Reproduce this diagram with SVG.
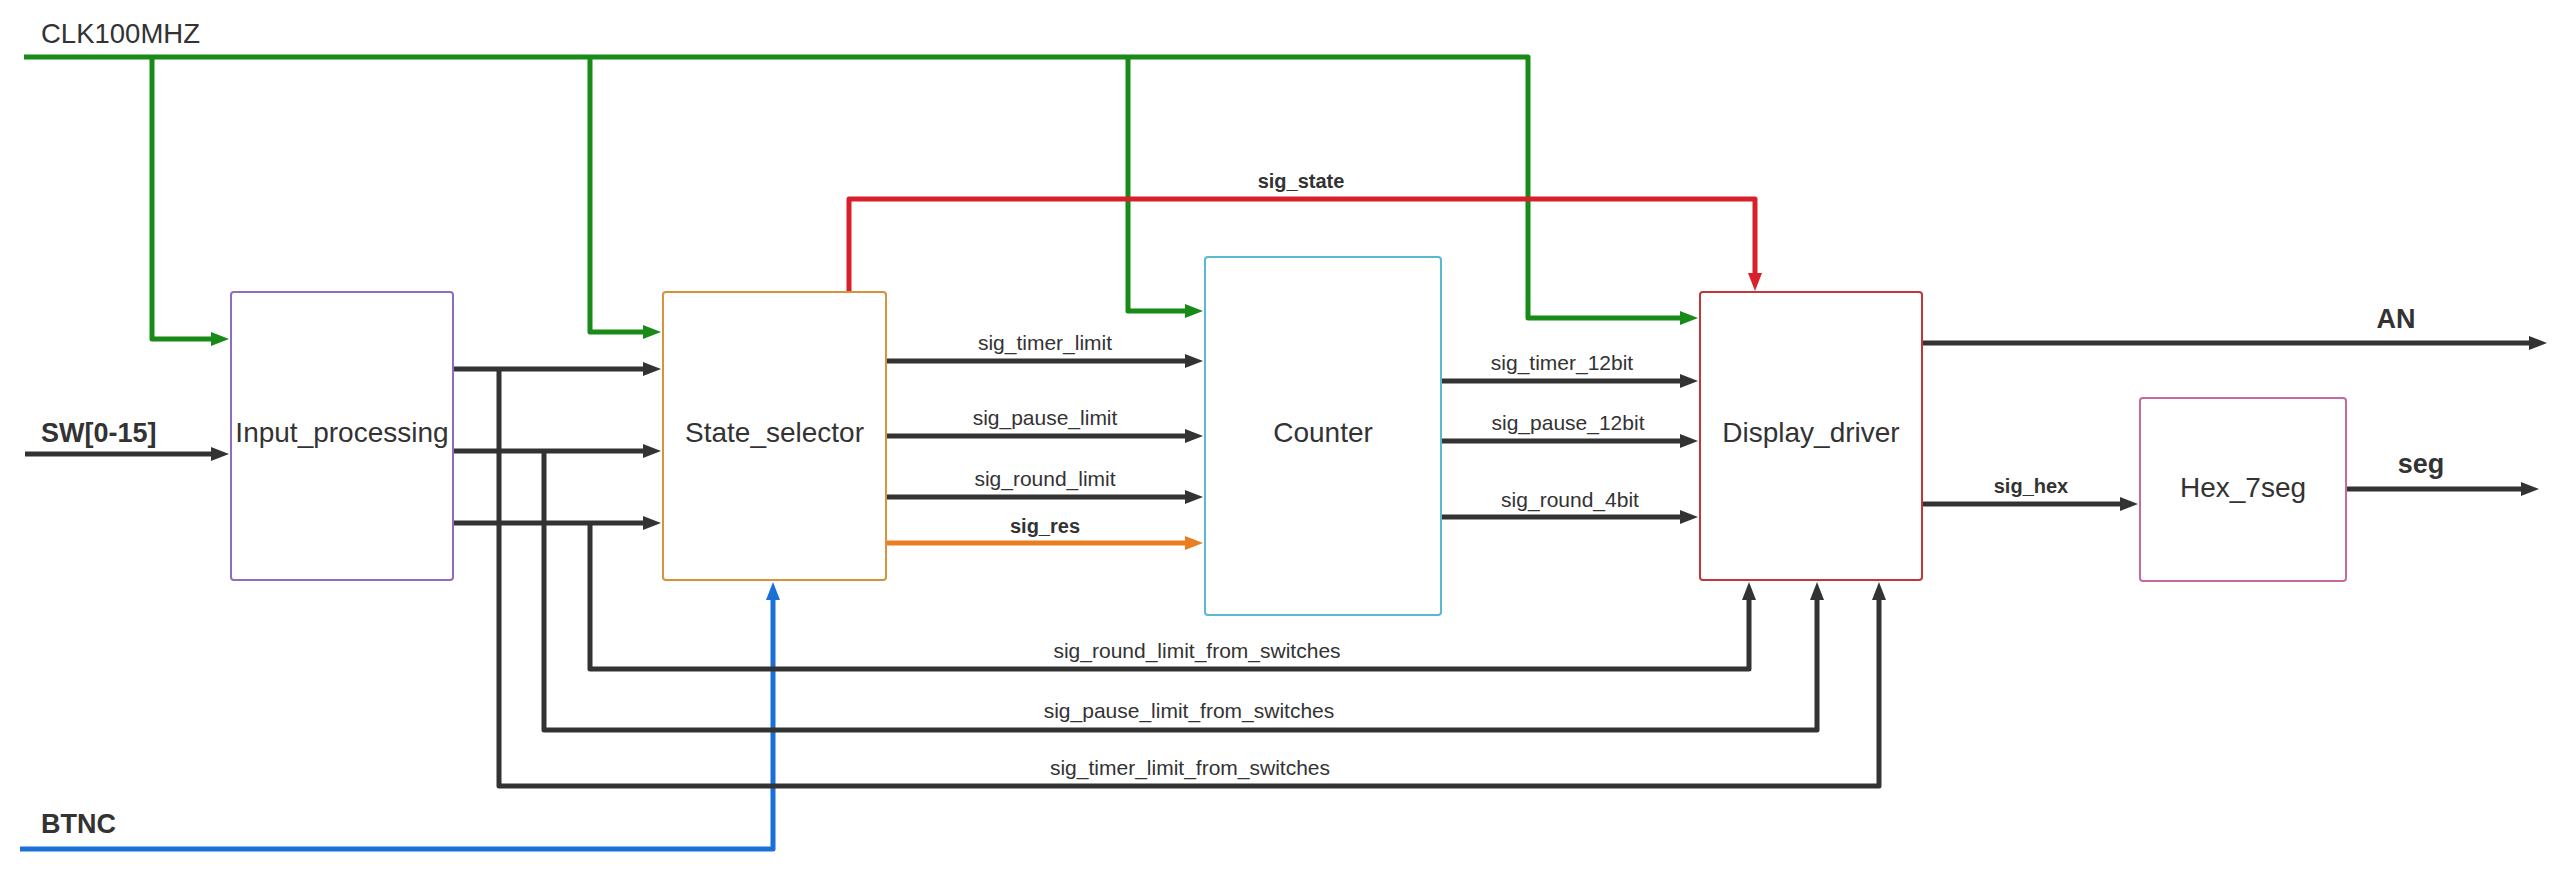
<svg xmlns="http://www.w3.org/2000/svg" width="2560" height="870" viewBox="0 0 2560 870">
<style>
.bg{fill:#ffffff}
.box{fill:#ffffff;stroke-width:2}
.t{font-family:"Liberation Sans",Arial,sans-serif;fill:#333333}
.bl{font-size:28px;text-anchor:middle}
.sl{font-size:21px;text-anchor:middle}
.sb{font-size:20px;font-weight:bold;text-anchor:middle}
.io{font-size:27px;font-weight:bold}
.w{fill:none;stroke-width:5;stroke-linejoin:round;stroke-linecap:butt}
.g{stroke:#178a17}
.r{stroke:#d8202a}
.o{stroke:#ea7d1f}
.b{stroke:#1a70d6}
.k{stroke:#333333}
</style>
<defs>
<marker id="ag" viewBox="0 0 18 14" refX="6" refY="7" markerWidth="18" markerHeight="14" markerUnits="userSpaceOnUse" orient="auto"><path d="M0,0 L18,7 L0,14 Z" fill="#178a17"/></marker>
<marker id="ar" viewBox="0 0 18 14" refX="6" refY="7" markerWidth="18" markerHeight="14" markerUnits="userSpaceOnUse" orient="auto"><path d="M0,0 L18,7 L0,14 Z" fill="#d8202a"/></marker>
<marker id="ao" viewBox="0 0 18 14" refX="6" refY="7" markerWidth="18" markerHeight="14" markerUnits="userSpaceOnUse" orient="auto"><path d="M0,0 L18,7 L0,14 Z" fill="#ea7d1f"/></marker>
<marker id="ab" viewBox="0 0 18 14" refX="6" refY="7" markerWidth="18" markerHeight="14" markerUnits="userSpaceOnUse" orient="auto"><path d="M0,0 L18,7 L0,14 Z" fill="#1a70d6"/></marker>
<marker id="ak" viewBox="0 0 18 14" refX="6" refY="7" markerWidth="18" markerHeight="14" markerUnits="userSpaceOnUse" orient="auto"><path d="M0,0 L18,7 L0,14 Z" fill="#333333"/></marker>
</defs>
<rect class="bg" x="0" y="0" width="2560" height="870"/>

<g id="connectors">
  <path class="w g" d="M24,57 H1528 V318 H1686" marker-end="url(#ag)"/>
  <path class="w g" d="M152,57 V339 H217" marker-end="url(#ag)"/>
  <path class="w g" d="M590,57 V332 H649" marker-end="url(#ag)"/>
  <path class="w g" d="M1128,57 V311 H1191" marker-end="url(#ag)"/>
  <path class="w r" d="M849,292 V199 H1755 V279" marker-end="url(#ar)"/>
  <path class="w o" d="M886,543 H1191" marker-end="url(#ao)"/>
  <path class="w b" d="M20,849 H773 V594" marker-end="url(#ab)"/>
  <path class="w k" d="M25,454 H217" marker-end="url(#ak)"/>
  <path class="w k" d="M453,369 H649" marker-end="url(#ak)"/>
  <path class="w k" d="M453,451 H649" marker-end="url(#ak)"/>
  <path class="w k" d="M453,523 H649" marker-end="url(#ak)"/>
  <path class="w k" d="M499,369 V786 H1879 V594" marker-end="url(#ak)"/>
  <path class="w k" d="M544,451 V730 H1817 V594" marker-end="url(#ak)"/>
  <path class="w k" d="M590,523 V669 H1749 V594" marker-end="url(#ak)"/>
  <path class="w k" d="M886,361 H1191" marker-end="url(#ak)"/>
  <path class="w k" d="M886,436 H1191" marker-end="url(#ak)"/>
  <path class="w k" d="M886,497 H1191" marker-end="url(#ak)"/>
  <path class="w k" d="M1441,381 H1686" marker-end="url(#ak)"/>
  <path class="w k" d="M1441,441 H1686" marker-end="url(#ak)"/>
  <path class="w k" d="M1441,517 H1686" marker-end="url(#ak)"/>
  <path class="w k" d="M1922,343 H2535" marker-end="url(#ak)"/>
  <path class="w k" d="M1922,504 H2126" marker-end="url(#ak)"/>
  <path class="w k" d="M2346,489 H2527" marker-end="url(#ak)"/>
</g>

<g id="labels">
  <text class="t" x="41" y="43" font-size="27.5">CLK100MHZ</text>
  <text class="t io" x="41" y="442">SW[0-15]</text>
  <text class="t io" x="41" y="833">BTNC</text>
  <text class="t sb" x="1301" y="188">sig_state</text>
  <text class="t sl" x="1045" y="350">sig_timer_limit</text>
  <text class="t sl" x="1045" y="425">sig_pause_limit</text>
  <text class="t sl" x="1045" y="486">sig_round_limit</text>
  <text class="t sb" x="1045" y="533">sig_res</text>
  <text class="t sl" x="1562" y="370">sig_timer_12bit</text>
  <text class="t sl" x="1568" y="430">sig_pause_12bit</text>
  <text class="t sl" x="1570" y="507">sig_round_4bit</text>
  <text class="t sl" x="1197" y="658">sig_round_limit_from_switches</text>
  <text class="t sl" x="1189" y="718">sig_pause_limit_from_switches</text>
  <text class="t sl" x="1190" y="775">sig_timer_limit_from_switches</text>
  <text class="t sb" x="2031" y="493">sig_hex</text>
  <text class="t io" x="2396" y="328" text-anchor="middle">AN</text>
  <text class="t io" x="2421" y="473" text-anchor="middle">seg</text>
</g>

<g id="input_processing">
  <rect class="box" x="231" y="292" width="222" height="288" rx="3" stroke="#8e6cbf"/>
  <text class="t bl" x="342" y="442">Input_processing</text>
</g>
<g id="state_selector">
  <rect class="box" x="663" y="292" width="223" height="288" rx="3" stroke="#d8913f"/>
  <text class="t bl" x="774.5" y="442">State_selector</text>
</g>
<g id="counter">
  <rect class="box" x="1205" y="257" width="236" height="358" rx="3" stroke="#5ab8cf"/>
  <text class="t bl" x="1323" y="442">Counter</text>
</g>
<g id="display_driver">
  <rect class="box" x="1700" y="292" width="222" height="288" rx="3" stroke="#c2363a"/>
  <text class="t bl" x="1811" y="442">Display_driver</text>
</g>
<g id="hex_7seg">
  <rect class="box" x="2140" y="398" width="206" height="183" rx="3" stroke="#c96a9e"/>
  <text class="t bl" x="2243" y="497">Hex_7seg</text>
</g>
</svg>
